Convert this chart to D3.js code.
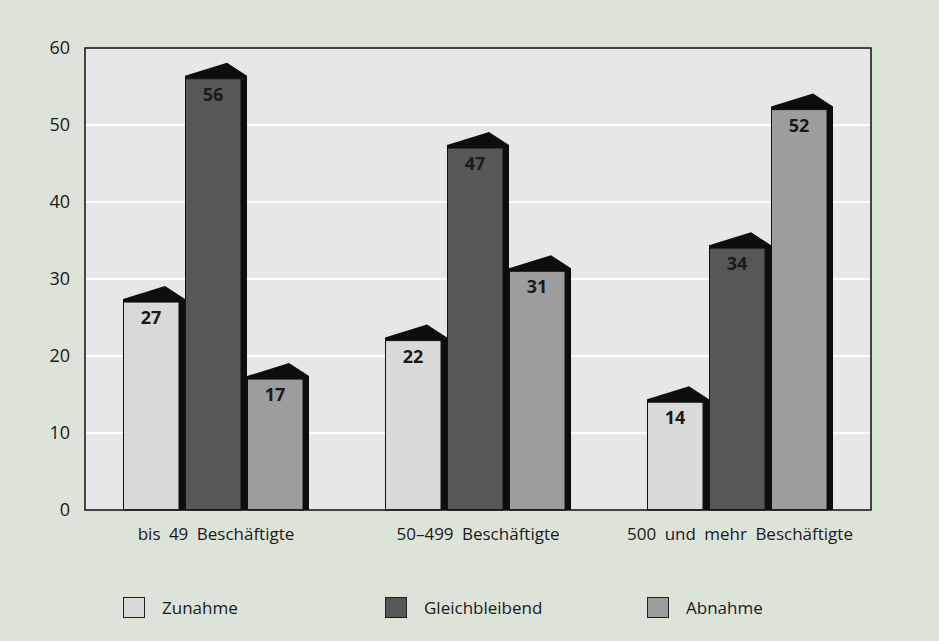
<!DOCTYPE html>
<html><head><meta charset="utf-8">
<script src="https://cdn.jsdelivr.net/npm/d3@7"></script>
<style>
html,body{margin:0;padding:0;background:#dce3d9;}
svg{display:block;}
text{font-family:"Open Sans","Noto Sans",sans-serif;fill:#1a1a1a;}
</style></head>
<body>
<svg id="chart" width="939" height="641"></svg>
<script>
const categories = ["bis 49 Beschäftigte", "50–499 Beschäftigte", "500 und mehr Beschäftigte"];
const seriesNames = ["Zunahme", "Gleichbleibend", "Abnahme"];
const zunahme = [27, 22, 14];
const gleichbleibend = [56, 47, 34];
const abnahme = [17, 31, 52];
const yTicks = [0, 10, 20, 30, 40, 50, 60];
const colors = ["#d9d9d9", "#575757", "#9d9d9d"];

const values = [zunahme, gleichbleibend, abnahme];
const data = categories.map((c, i) => ({cat: c, vals: seriesNames.map((s, j) => ({s, v: values[j][i]}))}));

const svg = d3.select("#chart");
const L = 85, R = 871, T = 48, B = 510;

svg.append("rect").attr("width", 939).attr("height", 641).attr("fill", "#dce3d9");

const x0 = d3.scaleBand().domain(categories).range([L, R]).paddingInner(0.29).paddingOuter(0.145);
const x1 = d3.scaleBand().domain(seriesNames).range([0, x0.bandwidth()]).padding(0);
const y = d3.scaleLinear().domain([0, 60]).range([B, T]);
const color = d3.scaleOrdinal().domain(seriesNames).range(colors);

// plot area
svg.append("rect").attr("x", L).attr("y", T).attr("width", R - L).attr("height", B - T).attr("fill", "#e7e7e7");

// gridlines
svg.append("g").selectAll("line").data(yTicks.filter(d => d > 0 && d < 60)).join("line")
  .attr("x1", L).attr("x2", R).attr("y1", d => y(d)).attr("y2", d => y(d))
  .attr("stroke", "#ffffff").attr("stroke-width", 2);

// y axis labels
const yAxis = d3.axisLeft(y).tickValues(yTicks).tickSize(0).tickPadding(15);
const gy = svg.append("g").attr("transform", `translate(${L},0)`).call(yAxis);
gy.select(".domain").remove();
gy.selectAll("text").attr("font-size", 18).attr("font-family", "Open Sans, sans-serif").attr("fill", "#1a1a1a");

// bars
const sideW = 6;
const groups = svg.append("g").selectAll("g").data(data).join("g")
  .attr("transform", d => `translate(${x0(d.cat)},0)`);

groups.each(function(d) {
  const g = d3.select(this);
  d.vals.forEach(b => {
    const bx = x1(b.s);
    const w = x1.bandwidth() - sideW;
    const top = y(b.v);
    g.append("rect").attr("x", bx + w).attr("y", top - 3).attr("width", sideW).attr("height", B - top + 3).attr("fill", "#0d0d0d");
    g.append("rect").attr("x", bx + 0.5).attr("y", top).attr("width", w - 0.5).attr("height", B - top)
      .attr("fill", color(b.s)).attr("stroke", "#111").attr("stroke-width", 1);
    const pts = [[bx, top], [bx, top - 3], [bx + 42, top - 16], [bx + w + sideW, top - 3], [bx + w + sideW, top]];
    g.append("polygon").attr("points", pts.map(p => p.join(",")).join(" ")).attr("fill", "#0d0d0d");
    g.append("text").attr("x", bx + w / 2).attr("y", top + 22).attr("text-anchor", "middle")
      .attr("font-size", 18).attr("font-weight", "bold").attr("fill", "#111").text(b.v);
  });
});

// frame
svg.append("rect").attr("x", L).attr("y", T).attr("width", R - L).attr("height", B - T)
  .attr("fill", "none").attr("stroke", "#111").attr("stroke-width", 1.5);

// x axis labels
const xAxis = d3.axisBottom(x0).tickSize(0).tickPadding(18);
const gx = svg.append("g").attr("transform", `translate(0,${B})`).call(xAxis);
gx.select(".domain").remove();
gx.selectAll("text").attr("font-size", 17).attr("word-spacing", 4).attr("font-family", "Open Sans, sans-serif").attr("fill", "#1a1a1a");

// legend
const legX = [123, 385, 647];
const leg = svg.append("g").selectAll("g").data(seriesNames).join("g")
  .attr("transform", (d, i) => `translate(${legX[i]},597)`);
leg.append("rect").attr("x", 0.5).attr("y", 0.5).attr("width", 21).attr("height", 20)
  .attr("fill", d => color(d)).attr("stroke", "#222").attr("stroke-width", 1);
leg.append("text").attr("x", 39).attr("y", 17).attr("font-size", 17).text(d => d);
</script>
</body></html>
